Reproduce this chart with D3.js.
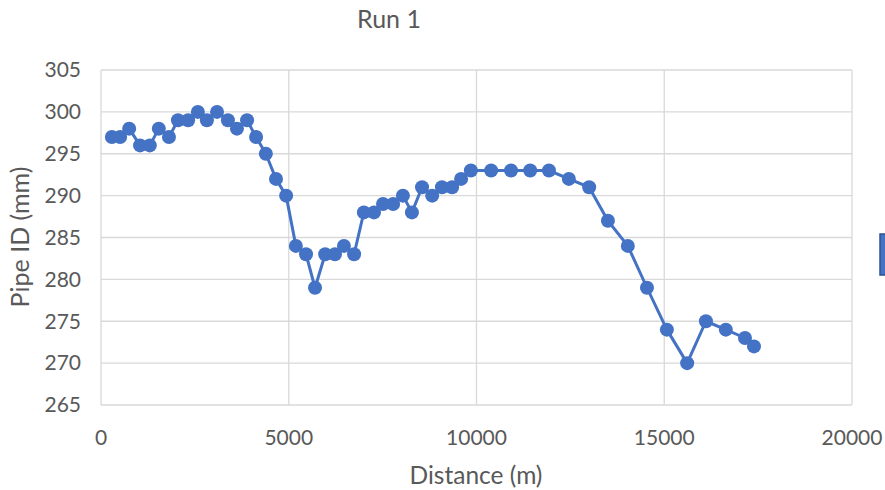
<!DOCTYPE html>
<html><head><meta charset="utf-8">
<script src="https://cdn.jsdelivr.net/npm/d3@7"></script>
<style>body{margin:0;background:#fff}svg{display:block}</style>
</head><body>
<svg id="c" width="885" height="490"></svg>
<script>
const distances = [290,510,750,1040,1300,1540,1810,2050,2320,2580,2820,3090,3380,3620,3890,4130,4390,4660,4930,5190,5460,5700,5970,6230,6470,6740,7000,7270,7510,7780,8040,8280,8550,8820,9080,9350,9590,9850,10390,10920,11430,11930,12460,13000,13500,14030,14540,15070,15610,16110,16640,17150,17390];
const pipeID = [297,297,298,296,296,298,297,299,299,300,299,300,299,298,299,297,295,292,290,284,283,279,283,283,284,283,288,288,289,289,290,288,291,290,291,291,292,293,293,293,293,293,292,291,287,284,279,274,270,275,274,273,272];
const xTicks = [0,5000,10000,15000,20000];
const yTicks = [265,270,275,280,285,290,295,300,305];
const title = "Run 1", xTitle = "Distance (m)", yTitle = "Pipe ID (mm)";

const svg = d3.select("#c");
const font = "Lato, 'Open Sans', sans-serif";
const x = d3.scaleLinear().domain([0,20000]).range([101,852]);
const y = d3.scaleLinear().domain([265,305]).range([405,70]);
const grid = "#d9d9d9", txt = "#595959", blue = "#4472C4";

svg.append("g").selectAll("line").data(yTicks).join("line")
  .attr("x1",x(0)).attr("x2",x(20000)).attr("y1",d=>y(d)).attr("y2",d=>y(d))
  .attr("stroke",grid).attr("stroke-width",1.3);
svg.append("g").selectAll("line").data(xTicks).join("line")
  .attr("y1",y(265)).attr("y2",y(305)).attr("x1",d=>x(d)).attr("x2",d=>x(d))
  .attr("stroke",grid).attr("stroke-width",1.3);

svg.append("g").selectAll("text").data(yTicks).join("text")
  .attr("x",81).attr("y",d=>y(d)).attr("dy","0.35em").attr("text-anchor","end")
  .attr("font-family",font).attr("font-size",21).attr("fill",txt).text(d=>d);
svg.append("g").selectAll("text").data(xTicks).join("text")
  .attr("x",d=>x(d)).attr("y",438).attr("dy","0.35em").attr("text-anchor","middle")
  .attr("font-family",font).attr("font-size",21).attr("fill",txt).text(d=>d);

svg.append("text").attr("x",389).attr("y",28).attr("text-anchor","middle")
  .attr("font-family",font).attr("font-size",25).attr("fill",txt).text(title);
svg.append("text").attr("x",476).attr("y",484).attr("text-anchor","middle")
  .attr("font-family",font).attr("font-size",24.5).attr("fill",txt).text(xTitle);
svg.append("text").attr("transform","translate(29,237) rotate(-90)").attr("text-anchor","middle")
  .attr("font-family",font).attr("font-size",25).attr("fill",txt).text(yTitle);

const pts = distances.map((d,i)=>[d,pipeID[i]]);
svg.append("path").datum(pts)
  .attr("d",d3.line().x(d=>x(d[0])).y(d=>y(d[1])))
  .attr("fill","none").attr("stroke",blue).attr("stroke-width",3).attr("stroke-linejoin","round");
svg.append("g").selectAll("circle").data(pts).join("circle")
  .attr("cx",d=>x(d[0])).attr("cy",d=>y(d[1])).attr("r",7).attr("fill",blue);

svg.append("rect").attr("x",880).attr("y",234).attr("width",10).attr("height",41)
  .attr("fill",blue).attr("stroke","#2F528F").attr("stroke-width",1.5);
</script>
</body></html>
